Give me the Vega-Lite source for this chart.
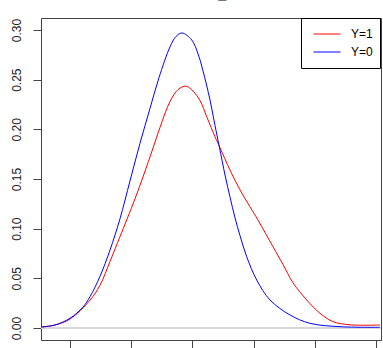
{
  "$schema": "https://vega.github.io/schema/vega-lite/v6.json",
  "width": 340,
  "height": 322,
  "autosize": {"type": "none"},
  "padding": {"left": 41, "top": 18, "right": 2, "bottom": 8},
  "background": "white",
  "title": {
    "text": "total_x",
    "font": "Liberation Sans",
    "fontSize": 14.4,
    "fontWeight": "bold",
    "color": "#000",
    "anchor": "middle",
    "frame": "group",
    "baseline": "alphabetic",
    "offset": 4
  },
  "config": {
    "view": {"stroke": "#444", "strokeWidth": 1},
    "axis": {"labelFont": "Liberation Sans", "labelFontSize": 12, "labelColor": "#222", "tickColor": "#444", "tickSize": 8, "grid": false, "domain": false, "title": null}
  },
  "data": {
    "values": [
      {"x": -0.474, "density": 0.0010, "group": "Y=1"},
      {"x": -0.245, "density": 0.0030, "group": "Y=1"},
      {"x": 0.000, "density": 0.0090, "group": "Y=1"},
      {"x": 0.327, "density": 0.0280, "group": "Y=1"},
      {"x": 0.490, "density": 0.0430, "group": "Y=1"},
      {"x": 0.654, "density": 0.0670, "group": "Y=1"},
      {"x": 0.817, "density": 0.0920, "group": "Y=1"},
      {"x": 0.926, "density": 0.1087, "group": "Y=1"},
      {"x": 1.062, "density": 0.1300, "group": "Y=1"},
      {"x": 1.198, "density": 0.1530, "group": "Y=1"},
      {"x": 1.361, "density": 0.1820, "group": "Y=1"},
      {"x": 1.471, "density": 0.2020, "group": "Y=1"},
      {"x": 1.634, "density": 0.2280, "group": "Y=1"},
      {"x": 1.765, "density": 0.2400, "group": "Y=1"},
      {"x": 1.895, "density": 0.2435, "group": "Y=1"},
      {"x": 2.010, "density": 0.2385, "group": "Y=1"},
      {"x": 2.124, "density": 0.2290, "group": "Y=1"},
      {"x": 2.239, "density": 0.2120, "group": "Y=1"},
      {"x": 2.369, "density": 0.1926, "group": "Y=1"},
      {"x": 2.451, "density": 0.1815, "group": "Y=1"},
      {"x": 2.614, "density": 0.1590, "group": "Y=1"},
      {"x": 2.778, "density": 0.1390, "group": "Y=1"},
      {"x": 2.941, "density": 0.1220, "group": "Y=1"},
      {"x": 3.072, "density": 0.1087, "group": "Y=1"},
      {"x": 3.317, "density": 0.0818, "group": "Y=1"},
      {"x": 3.480, "density": 0.0640, "group": "Y=1"},
      {"x": 3.644, "density": 0.0455, "group": "Y=1"},
      {"x": 3.868, "density": 0.0282, "group": "Y=1"},
      {"x": 4.085, "density": 0.0148, "group": "Y=1"},
      {"x": 4.297, "density": 0.0064, "group": "Y=1"},
      {"x": 4.575, "density": 0.0032, "group": "Y=1"},
      {"x": 5.065, "density": 0.0030, "group": "Y=1"},
      {"x": -0.474, "density": 0.0010, "group": "Y=0"},
      {"x": -0.245, "density": 0.0030, "group": "Y=0"},
      {"x": 0.000, "density": 0.0098, "group": "Y=0"},
      {"x": 0.212, "density": 0.0210, "group": "Y=0"},
      {"x": 0.327, "density": 0.0315, "group": "Y=0"},
      {"x": 0.490, "density": 0.0520, "group": "Y=0"},
      {"x": 0.654, "density": 0.0785, "group": "Y=0"},
      {"x": 0.817, "density": 0.1100, "group": "Y=0"},
      {"x": 0.980, "density": 0.1480, "group": "Y=0"},
      {"x": 1.144, "density": 0.1860, "group": "Y=0"},
      {"x": 1.307, "density": 0.2210, "group": "Y=0"},
      {"x": 1.454, "density": 0.2520, "group": "Y=0"},
      {"x": 1.634, "density": 0.2830, "group": "Y=0"},
      {"x": 1.732, "density": 0.2935, "group": "Y=0"},
      {"x": 1.830, "density": 0.2970, "group": "Y=0"},
      {"x": 1.989, "density": 0.2900, "group": "Y=0"},
      {"x": 2.092, "density": 0.2760, "group": "Y=0"},
      {"x": 2.173, "density": 0.2590, "group": "Y=0"},
      {"x": 2.288, "density": 0.2295, "group": "Y=0"},
      {"x": 2.369, "density": 0.2040, "group": "Y=0"},
      {"x": 2.440, "density": 0.1825, "group": "Y=0"},
      {"x": 2.533, "density": 0.1540, "group": "Y=0"},
      {"x": 2.614, "density": 0.1320, "group": "Y=0"},
      {"x": 2.696, "density": 0.1110, "group": "Y=0"},
      {"x": 2.778, "density": 0.0930, "group": "Y=0"},
      {"x": 2.887, "density": 0.0718, "group": "Y=0"},
      {"x": 3.051, "density": 0.0483, "group": "Y=0"},
      {"x": 3.268, "density": 0.0282, "group": "Y=0"},
      {"x": 3.595, "density": 0.0131, "group": "Y=0"},
      {"x": 3.922, "density": 0.0047, "group": "Y=0"},
      {"x": 4.412, "density": 0.0013, "group": "Y=0"},
      {"x": 5.065, "density": 0.0007, "group": "Y=0"}
    ]
  },
  "layer": [
    {
      "mark": {"type": "rule", "color": "#d6d6d6", "strokeWidth": 2},
      "encoding": {"y": {"datum": 0, "type": "quantitative", "scale": {"domain": [-0.0121, 0.3121], "nice": false, "zero": false}}}
    },
    {
      "mark": {"type": "line", "strokeWidth": 1, "interpolate": "catmull-rom"},
      "encoding": {
        "x": {"field": "x", "type": "quantitative", "scale": {"domain": [-0.474, 5.082], "nice": false, "zero": false},
              "axis": {"values": [0, 1, 2, 3, 4, 5], "labels": false}},
        "y": {"field": "density", "type": "quantitative", "scale": {"domain": [-0.0121, 0.3121], "nice": false, "zero": false},
              "axis": {"values": [0, 0.05, 0.1, 0.15, 0.2, 0.25, 0.3], "format": ".2f", "labelAngle": 270, "labelAlign": "center", "labelBaseline": "alphabetic", "labelPadding": 13}},
        "color": {"field": "group", "type": "nominal",
                  "scale": {"domain": ["Y=1", "Y=0"], "range": ["#FF0000", "#0000FF"]},
                  "legend": {"title": null, "orient": "none", "legendX": 260, "legendY": 0,
                             "strokeColor": "#000", "fillColor": "#fff", "padding": 7, "cornerRadius": 0,
                             "symbolType": "stroke", "symbolSize": 729, "symbolStrokeWidth": 1, "symbolOffset": 5,
                             "labelOffset": 10, "labelFont": "Liberation Sans", "labelFontSize": 12, "labelColor": "#000",
                             "clipHeight": 18, "rowPadding": 0}}
      }
    }
  ]
}
